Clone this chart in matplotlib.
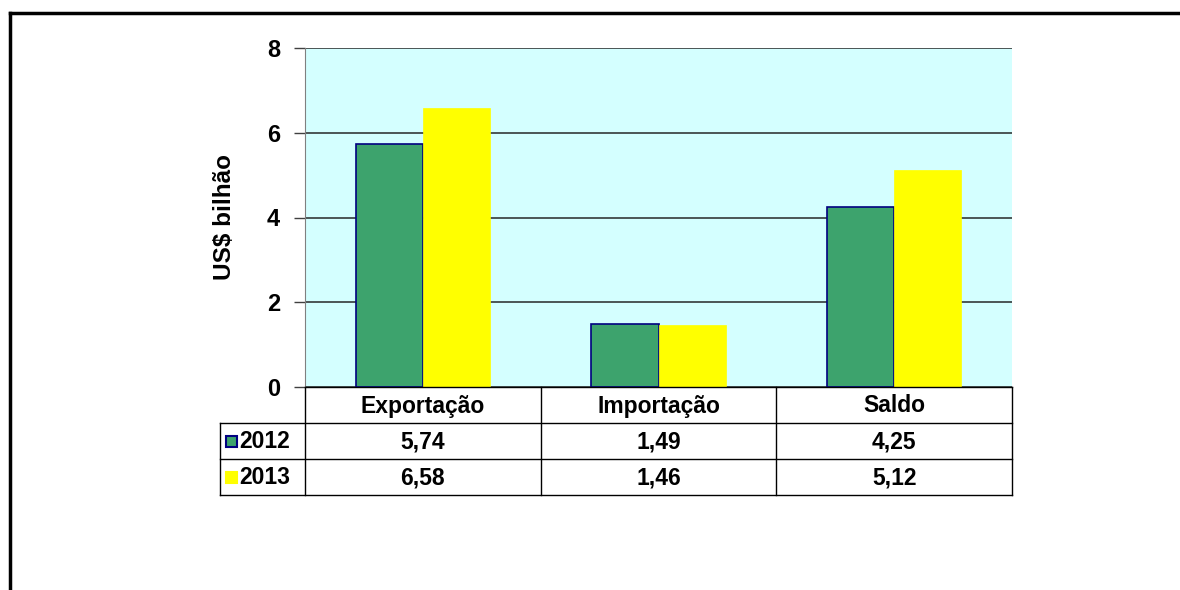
import matplotlib
matplotlib.use("Agg")
import matplotlib.pyplot as plt
from matplotlib.lines import Line2D
from matplotlib.patches import Rectangle
import numpy as np

categories = ["Exportação", "Importação", "Saldo"]
series_names = ["2012", "2013"]
values_2012 = [5.74, 1.49, 4.25]
values_2013 = [6.58, 1.46, 5.12]
yticks = [0, 2, 4, 6, 8]

green = "#3DA36D"
yellow = "#FFFF00"
bg = "#D4FFFF"

W, H = 1180, 590
fig = plt.figure(figsize=(W / 100, H / 100), dpi=100)

def fx(px):
    return px / W

def fy(py):
    return 1 - py / H

# outer border
fig.add_artist(Line2D([fx(10), fx(1180)], [fy(13), fy(13)], color="black", lw=2.5))
fig.add_artist(Line2D([fx(10), fx(10)], [fy(13), fy(590)], color="black", lw=2.5))

left, right, top, bottom = 305, 1012, 48, 387
ax = fig.add_axes([fx(left), fy(bottom), fx(right - left), (bottom - top) / H])
ax.set_facecolor(bg)

x = np.arange(len(categories))
bw = 0.285
ax.bar(x - bw / 2, values_2012, width=bw, color=green, edgecolor="#000080", linewidth=1.2, zorder=3)
ax.bar(x + bw / 2, values_2013, width=bw, color=yellow, edgecolor=yellow, linewidth=0.5, zorder=3)

ax.set_xlim(-0.5, len(categories) - 0.5)
ax.set_ylim(0, 8)
ax.set_yticks(yticks)
ax.set_yticklabels([str(t) for t in yticks], fontsize=17, fontweight="bold", family="Liberation Sans")
ax.set_xticks([])
ax.yaxis.grid(True, color="#404848", linewidth=1.3, zorder=1)
ax.tick_params(axis="y", length=8, width=1, color="#404040", pad=10)
for s in ["top", "right", "bottom"]:
    ax.spines[s].set_visible(False)
ax.spines["left"].set_color("#808080")
ax.set_ylabel("US$ bilhão", fontsize=17.5, fontweight="bold", family="Liberation Sans", labelpad=22)

# data table below the chart
row_h = 36
tab_left = 220
tab_top = bottom
ncols = len(categories)
col_w = (right - left) / ncols
tfont = ["Liberation Sans", "DejaVu Sans"]
tsize = 16.5

def hline(y, x0, x1):
    fig.add_artist(Line2D([fx(x0), fx(x1)], [fy(y), fy(y)], color="black", lw=1))

def vline(x0, y0, y1):
    fig.add_artist(Line2D([fx(x0), fx(x0)], [fy(y0), fy(y1)], color="black", lw=1))

# header row
hline(tab_top, left, right)
for i in range(ncols + 1):
    vline(left + i * col_w, tab_top, tab_top + 3 * row_h)
for i, c in enumerate(categories):
    fig.text(fx(left + (i + 0.5) * col_w), fy(tab_top + row_h / 2 + 1), c, ha="center", va="center",
             fontsize=tsize, fontweight="bold", family=tfont)
# data rows
rows = [values_2012, values_2013]
colors = [green, yellow]
edges = ["#000080", yellow]
for r in range(2):
    y0 = tab_top + (r + 1) * row_h
    hline(y0, tab_left, right)
    for i, v in enumerate(rows[r]):
        fig.text(fx(left + (i + 0.5) * col_w), fy(y0 + row_h / 2 + 1), f"{v:.2f}".replace(".", ","),
                 ha="center", va="center", fontsize=tsize, fontweight="bold", family=tfont)
    sz = 11
    fig.add_artist(Rectangle((fx(226), fy(y0 + row_h / 2 + sz / 2)), fx(sz), sz / H,
                             facecolor=colors[r], edgecolor=edges[r], lw=1.5))
    fig.text(fx(239), fy(y0 + row_h / 2 + 1), series_names[r], ha="left", va="center",
             fontsize=tsize, fontweight="bold", family=tfont)
hline(tab_top + 3 * row_h, tab_left, right)
vline(tab_left, tab_top + row_h, tab_top + 3 * row_h)

fig.savefig("out.png", dpi=100)
